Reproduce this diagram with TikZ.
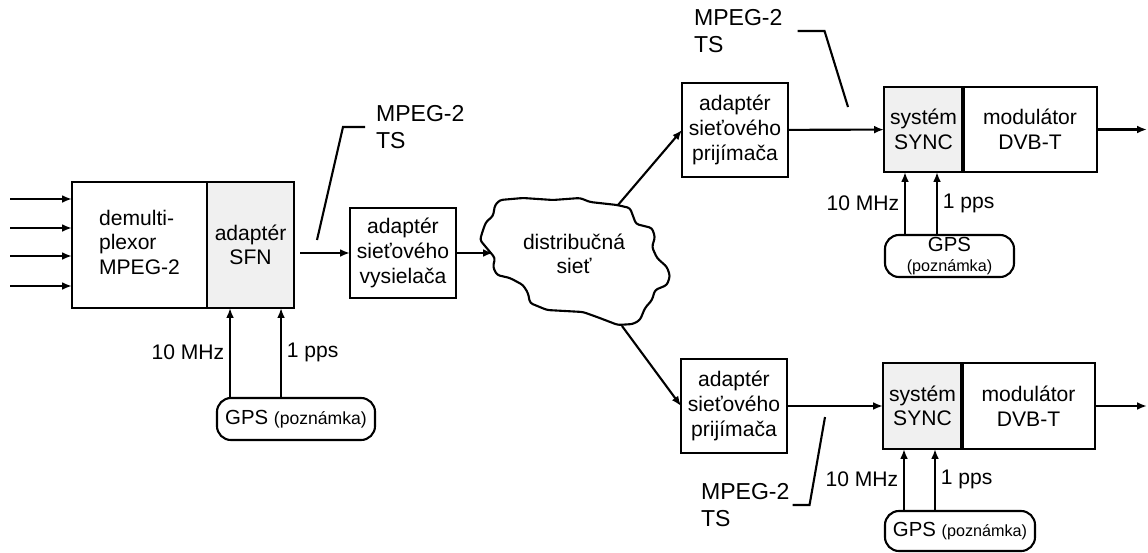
\documentclass[tikz,border=0pt]{standalone}
\usepackage{fontspec}
\setmainfont{Liberation Sans}
\usetikzlibrary{arrows.meta,positioning}

\begin{document}
\begin{tikzpicture}[x=0.025cm,y=-0.025cm,>={Latex[length=7pt,width=5.5pt]},line width=1.5pt,
  block/.style={draw,outer sep=0pt,align=center,inner xsep=2pt,font=\fontsize{15}{17.5}\selectfont,minimum height=3.15cm},
  gps/.style={draw,rounded corners=0.35cm,align=center,minimum height=1.05cm,inner ysep=0pt,inner xsep=2pt,font=\fontsize{14.5}{14}\selectfont},
  tslabel/.style={align=left,inner sep=0pt,font=\fontsize{16.4}{19}\selectfont},
  sig/.style={font=\fontsize{15}{17}\selectfont}]

  \useasboundingbox (0,0) rectangle (1148,552);

  % multiplexor a adapter SFN
  \node[block,minimum width=3.375cm] (demux) at (139.5,245) {\begin{tabular}{@{}l@{}}demulti-\\plexor\\MPEG-2\end{tabular}};
  \node[block,minimum width=2.175cm,fill=gray!12,right=0pt of demux] (sfn) {adaptér\\SFN};

  \foreach \y [count=\i] in {199,228,256,286} {
    \coordinate (in\i) at (10,\y);
    \draw[->] (in\i) -- (in\i -| demux.west);
  }

  \node[gps,minimum width=3.95cm] (gpsL) at (296,419) {GPS {\fontsize{12.5}{13}\selectfont(poznámka)}};
  \path ([xshift=0.575cm]sfn.south west) coordinate (tenL)
        ([xshift=1.85cm]sfn.south west) coordinate (ppsL);
  \draw[->] (tenL |- gpsL.north) -- node[sig,left] {10 MHz} (tenL);
  \draw[->] (ppsL |- gpsL.north) -- node[sig,right] {1 pps} (ppsL);

  % vysielac
  \node[block,minimum width=2.65cm,minimum height=2.25cm] (vys) at (403,253) {adaptér\\sieťového\\vysielača};
  \draw[->,shorten <=0.15cm] (sfn.east |- vys) -- (vys);

  \node[tslabel,anchor=west] (tsL) at (375,127) {MPEG-2\\TS};
  \coordinate (tsLend) at (317,240);
  \draw ([xshift=-0.25cm]tsL.west) -- ++(-22,0) -- (tsLend);

  % siet
  \draw[rounded corners=2pt,line join=round] (495,205) -- (500,200) -- (523,198) -- (553,200)
    -- (580,198) -- (590,202) -- (617,205) -- (630,208) -- (633,216) -- (636,224)
    -- (652,228) -- (655,237) -- (652,247) -- (657,258) -- (667,267) -- (670,276)
    -- (667,285) -- (655,290) -- (652,300) -- (645,308) -- (640,320) -- (633,324)
    -- (618,325) -- (597,317) -- (583,312) -- (547,310) -- (530,303) -- (528,293)
    -- (523,285) -- (510,278) -- (497,275) -- (493,267) -- (495,258) -- (490,252)
    -- (485,246) -- (480,240) -- (483,230) -- (486,222) -- (493,216) -- cycle;
  \node[sig,align=center] (net) at (574,254) {distribučná\\sieť};
  \coordinate (netW) at (493,253);
  \coordinate (netNE) at (618,205);
  \coordinate (netSE) at (622,326);
  \draw[->] (vys) -- (netW);

  % horny prijimac
  \node[block,minimum width=2.65cm,minimum height=2.35cm] (prijA) at (735,130) {adaptér\\sieťového\\prijímača};
  \node[block,minimum width=1.975cm,minimum height=2.125cm,fill=gray!12] (syncA) at (923.5,129.5) {systém\\SYNC};
  \node[block,minimum width=3.35cm,minimum height=2.125cm,right=0pt of syncA] (modA) {modulátor\\DVB-T};
  \draw[line width=2.2pt] (syncA.north east) -- (syncA.south east);
  \coordinate (outA) at (1147,129.5);
  \draw[->] (netNE) -- (prijA.west);
  \draw[->] (prijA) -- (syncA);
  \draw[->] (modA) -- (outA);

  \node[gps,minimum width=3.225cm] (gpsA) at (949.5,256) {GPS\\{\fontsize{11.5}{12}\selectfont(poznámka)}};
  \path ([xshift=0.525cm]syncA.south west) coordinate (tenA)
        ([xshift=1.325cm]syncA.south west) coordinate (ppsA);
  \draw[->] (tenA |- gpsA.north) -- node[sig,left] {10 MHz} (tenA);
  \draw[->] (ppsA |- gpsA.north) -- node[sig,right] {1 pps} (ppsA);

  \node[tslabel,anchor=west] (tsA) at (693,31) {MPEG-2\\TS};
  \coordinate (tsAend) at (848,107);
  \draw ([xshift=0.35cm]tsA.east) -- ++(27,0) -- (tsAend);

  % dolny prijimac
  \node[block,minimum width=2.65cm,minimum height=2.35cm] (prijB) at (734,406) {adaptér\\sieťového\\prijímača};
  \node[block,minimum width=1.975cm,minimum height=2.15cm,fill=gray!12] (syncB) at (922.5,406) {systém\\SYNC};
  \node[block,minimum width=3.325cm,minimum height=2.15cm,right=0pt of syncB] (modB) {modulátor\\DVB-T};
  \draw[line width=2.2pt] (syncB.north east) -- (syncB.south east);
  \coordinate (outB) at (1147,406);
  \draw[->] (netSE) -- (prijB.west);
  \draw[->] (prijB) -- (syncB);
  \draw[->] (modB) -- (outB);

  \node[gps,minimum width=3.75cm,minimum height=1cm] (gpsB) at (960,531) {GPS {\fontsize{11.5}{12}\selectfont(poznámka)}};
  \path ([xshift=0.525cm]syncB.south west) coordinate (tenB)
        ([xshift=1.3cm]syncB.south west) coordinate (ppsB);
  \draw[->] (tenB |- gpsB.north) -- node[sig,left] {10 MHz} (tenB);
  \draw[->] (ppsB |- gpsB.north) -- node[sig,right] {1 pps} (ppsB);

  \node[tslabel,anchor=west] (tsB) at (700,505) {MPEG-2\\TS};
  \coordinate (tsBend) at (825,417);
  \draw ([xshift=0.05cm]tsB.east) -- ++(17,0) -- (tsBend);
\end{tikzpicture}
\end{document}
